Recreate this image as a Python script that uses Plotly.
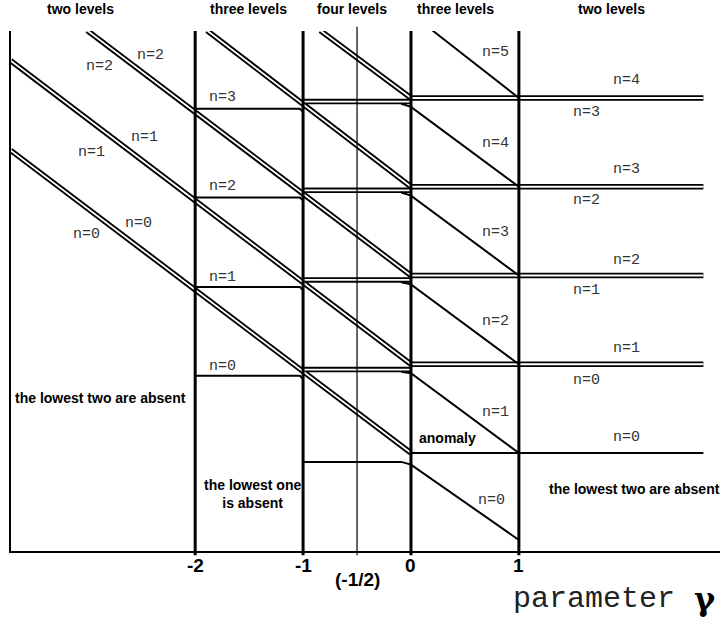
import plotly.graph_objects as go

# region borders on the gamma axis
bounds = [-2, -1, 0, 1]
half = -0.5
tick_text = ["-2", "-1", "0", "1"]

headers = ["two levels", "three levels", "four levels", "three levels", "two levels"]
header_g = [-3.06, -1.51, -0.55, 0.41, 1.86]

# doubly degenerate levels falling with gamma: start point -> value at gamma = 0
pair_start_g = [-3.71, -3.71, -3.0, -1.89, -0.84]
pair_start_E = [3.41, 4.42, 4.76, 4.76, 4.76]
pair_end_E = [0, 1, 2, 3, 4]

# flat single levels between -2 and -1 (n = 0..3)
flat3_E = [0.87, 1.87, 2.88, 3.88]
# flat double levels between -1 and 0 (n = 1..4) and the single one below them
flat4_E = [0.94, 1.95, 2.96, 3.96]
flat4_single_E = -0.1
# single levels falling between 0 and 1 (n = 0..4): value at gamma = 0 and at gamma = 1
fall_E0 = [-0.13, 0.9, 1.9, 2.9, 3.9]
fall_E1 = [-0.98, 0, 1, 2, 3]
# n=5 comes in from the top
top_fall_g = [0.2, 1]
top_fall_E = [4.76, 4.0]
# flat levels for gamma > 0
right_pair_E = [1, 2, 3, 4]
right_single_E = 0
right_end = 2.71

# level labels (text, gamma, E)
n_labels = [
    ("n=2", -2.89, 4.35), ("n=2", -2.41, 4.48),
    ("n=1", -2.96, 3.39), ("n=1", -2.47, 3.55),
    ("n=0", -3.01, 2.46), ("n=0", -2.53, 2.59),
    ("n=3", -1.75, 4.01), ("n=2", -1.75, 3.0), ("n=1", -1.75, 1.98), ("n=0", -1.75, 0.98),
    ("n=5", 0.78, 4.51), ("n=4", 0.78, 3.49), ("n=3", 0.78, 2.49),
    ("n=2", 0.78, 1.48), ("n=1", 0.78, 0.46), ("n=0", 0.75, -0.53),
    ("n=4", 2.0, 4.20), ("n=3", 1.63, 3.84),
    ("n=3", 2.0, 3.19), ("n=2", 1.63, 2.84),
    ("n=2", 2.0, 2.17), ("n=1", 1.63, 1.83),
    ("n=1", 2.0, 1.18), ("n=0", 1.63, 0.82),
    ("n=0", 2.0, 0.18),
]
notes = [
    ("the lowest two are absent", -2.88, 0.62),
    ("the lowest one<br>is absent", -1.47, -0.46),
    ("anomaly", 0.34, 0.17),
    ("the lowest two are absent", 2.07, -0.41),
]

fig = go.Figure()

# double lines: black stroke with a white core
doubles = []
for g0, e0, e1 in zip(pair_start_g, pair_start_E, pair_end_E):
    doubles.append(([g0, 0], [e0, e1]))
for e in flat4_E:
    doubles.append(([-1, 0], [e, e]))
for e in right_pair_E:
    doubles.append(([0, right_end], [e, e]))

for g, e in doubles:
    fig.add_trace(go.Scatter(x=g, y=e, mode="lines", line=dict(color="black", width=5.5),
                             hoverinfo="skip", showlegend=False))
for g, e in doubles:
    fig.add_trace(go.Scatter(x=g, y=e, mode="lines", line=dict(color="white", width=1.8),
                             hoverinfo="skip", showlegend=False))

# single lines
singles = []
for e in flat3_E:
    singles.append(([-2, -1.03, -1], [e, e, e - 0.035]))
singles.append(([-1, -0.09, 0, 1], [flat4_single_E, flat4_single_E, fall_E0[0], fall_E1[0]]))
for e, a, b in zip(flat4_E, fall_E0[1:], fall_E1[1:]):
    singles.append(([-0.09, 0, 1], [e - 0.025, a, b]))
singles.append((top_fall_g, top_fall_E))
singles.append(([0, right_end], [right_single_E, right_single_E]))

for g, e in singles:
    fig.add_trace(go.Scatter(x=g, y=e, mode="lines", line=dict(color="black", width=2),
                             hoverinfo="skip", showlegend=False))

# region borders
for b in bounds:
    fig.add_shape(type="line", xref="x", yref="paper", x0=b, x1=b, y0=-0.008, y1=1,
                  line=dict(color="black", width=3), layer="above")
fig.add_shape(type="line", xref="x", yref="paper", x0=half, x1=half, y0=-0.008, y1=1.008,
              line=dict(color="black", width=1.2), layer="above")

bold = dict(family="Liberation Sans, Arial", size=14, color="black")
big = dict(family="Liberation Sans, Arial", size=19, color="black")
mono = dict(family="Liberation Mono, Courier New", size=15, color="#333")

for t, g in zip(headers, header_g):
    fig.add_annotation(x=g, y=1.042, yref="paper", yanchor="middle", text="<b>%s</b>" % t,
                       showarrow=False, font=bold)
for t, g, e in n_labels:
    fig.add_annotation(x=g, y=e, text=t, showarrow=False, font=mono)
for t, g, e in notes:
    fig.add_annotation(x=g, y=e, text="<b>%s</b>" % t, showarrow=False, font=bold)

for t, b in zip(tick_text, bounds):
    fig.add_annotation(x=b, y=-0.027, yref="paper", yanchor="middle", text="<b>%s</b>" % t,
                       showarrow=False, font=big)
fig.add_annotation(x=half, y=-0.054, yref="paper", yanchor="middle", text="<b>(-1/2)</b>",
                   showarrow=False, font=big)
fig.add_annotation(x=1.696, y=-0.092, yref="paper", yanchor="middle", text="parameter",
                   showarrow=False,
                   font=dict(family="Liberation Mono, Courier New", size=30, color="#222"))
fig.add_annotation(x=2.725, y=-0.092, yref="paper", yanchor="middle", text="<b>γ</b>",
                   showarrow=False, font=dict(family="DejaVu Serif", size=32, color="black"))

fig.update_xaxes(range=[-3.707, 2.864], showgrid=False, zeroline=False, showticklabels=False,
                 showline=True, linecolor="black", linewidth=1.5, ticks="")
fig.update_yaxes(range=[-1.104, 4.755], showgrid=False, zeroline=False, showticklabels=False,
                 showline=True, linecolor="black", linewidth=1.5, ticks="")
fig.update_layout(width=722, height=629, margin=dict(l=11, r=2, t=31, b=78),
                  plot_bgcolor="white", paper_bgcolor="white", showlegend=False)

# drop the browser's default page margin so the figure sits at the window corner
fig.write_html("out.html", config={"displayModeBar": False},
               post_script="document.body.style.margin='0px';")
